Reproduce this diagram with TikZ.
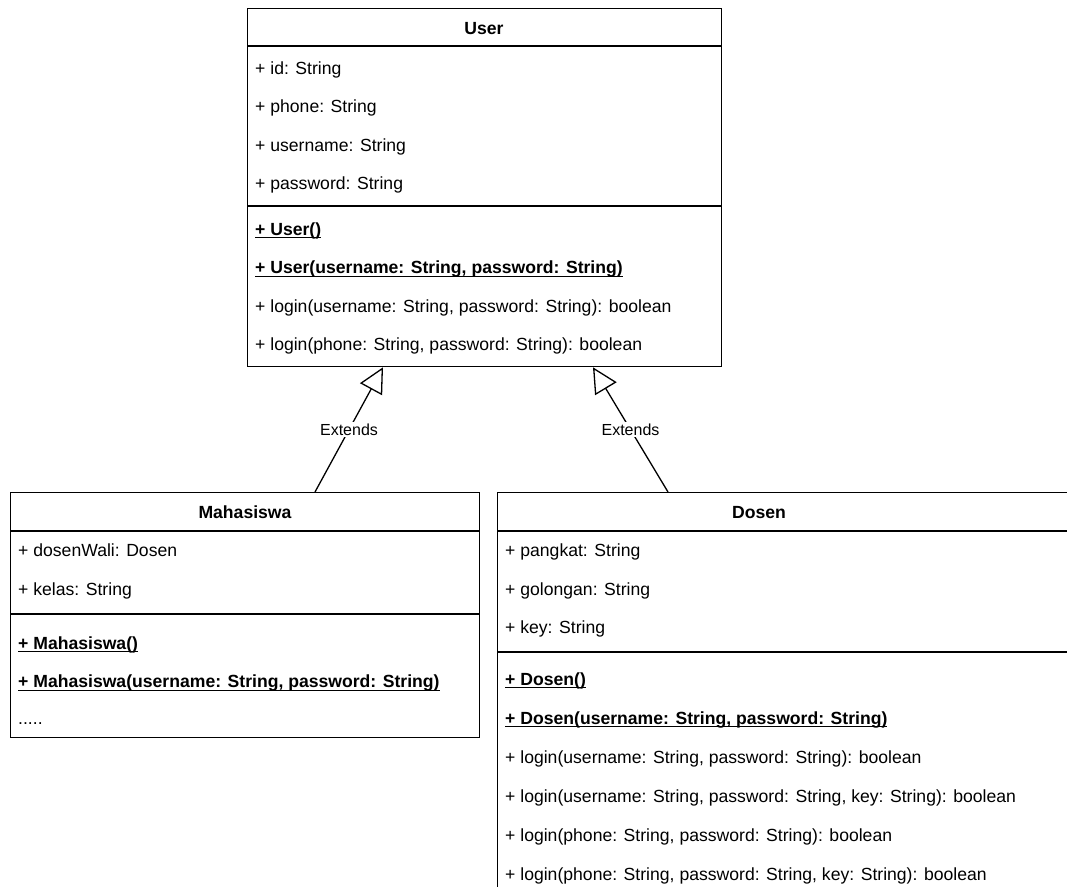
\documentclass[tikz,border=0pt]{standalone}
\usepackage{fontspec}
\setmainfont{Liberation Sans}
\usetikzlibrary{arrows.meta}
\newcommand\myul[1]{\setbox0=\hbox{#1}\rlap{\vrule height -2.2pt depth 3.4pt width \wd0}\box0}
\tikzset{
  box/.style={draw=black, line width=1.3pt, fill=white, inner sep=0pt, anchor=north west},
  sepline/.style={draw=black, line width=1.3pt},
  member/.style={anchor=base west, inner sep=0pt, font=\fontsize{17.6}{20}\selectfont, text=black},
  ctor/.style={member, font=\fontsize{17.6}{20}\selectfont\bfseries},
  title/.style={anchor=base, inner sep=0pt, font=\fontsize{17.6}{20}\selectfont\bfseries},
  ext/.style={draw=black, line width=1.3pt, -{Triangle[open, length=25pt, width=25pt]}},
  extlabel/.style={fill=white, inner sep=1.5pt, font=\fontsize{16}{18}\selectfont}
}
\begin{document}
\begin{tikzpicture}[x=1pt,y=-1pt]
\useasboundingbox (0,0) rectangle (1067,886);
\clip (0,0) rectangle (1067,886);
\fill[white] (0,0) rectangle (1067,886);

% ---------- User ----------
\node[box, minimum width=474pt, minimum height=358pt] (user) at (247,8) {};
\draw[sepline] (247,46) -- (721,46);
\draw[sepline] (247,206) -- (721,206);
\node[title] (userT) at (484,34) {User};
\node[member] (u1) at (255,74) {+ id: String};
\node[member] (u2) at (255,112.5) {+ phone: String};
\node[member] (u3) at (255,151) {+ username: String};
\node[member] (u4) at (255,189.5) {+ password: String};
\node[ctor] (u5) at (255,235) {\myul{+ User()}};
\node[ctor] (u6) at (255,273.5) {\myul{+ User(username: String, password: String)}};
\node[member] (u7) at (255,312) {+ login(username: String, password: String): boolean};
\node[member] (u8) at (255,350.5) {+ login(phone: String, password: String): boolean};

% ---------- Mahasiswa ----------
\node[box, minimum width=469pt, minimum height=245pt] (maha) at (10,492) {};
\draw[sepline] (10,531) -- (479,531);
\draw[sepline] (10,614) -- (479,614);
\node[title] (mahaT) at (245,518) {Mahasiswa};
\node[member] (m1) at (18,556.5) {+ dosenWali: Dosen};
\node[member] (m2) at (18,595) {+ kelas: String};
\node[ctor] (m3) at (18,649) {\myul{+ Mahasiswa()}};
\node[ctor] (m4) at (18,687.5) {\myul{+ Mahasiswa(username: String, password: String)}};
\node[member] (m5) at (18,724.5) {.....};

% ---------- Dosen ----------
\node[box, minimum width=620pt, minimum height=440pt] (dosen) at (497,492) {};
\draw[sepline] (497,531) -- (1080,531);
\draw[sepline] (497,652) -- (1080,652);
\node[title] (dosenT) at (759,518) {Dosen};
\node[member] (d1) at (505,556.5) {+ pangkat: String};
\node[member] (d2) at (505,595) {+ golongan: String};
\node[member] (d3) at (505,633.5) {+ key: String};
\node[ctor] (d4) at (505,685) {\myul{+ Dosen()}};
\node[ctor] (d5) at (505,724) {\myul{+ Dosen(username: String, password: String)}};
\node[member] (d6) at (505,763) {+ login(username: String, password: String): boolean};
\node[member] (d7) at (505,802) {+ login(username: String, password: String, key: String): boolean};
\node[member] (d8) at (505,841) {+ login(phone: String, password: String): boolean};
\node[member] (d9) at (505,880) {+ login(phone: String, password: String, key: String): boolean};

% ---------- Generalisations ----------
\coordinate (mTop) at ([xshift=305pt]maha.north west);
\coordinate (uL) at ([xshift=136pt]user.south west);
\coordinate (dTop) at ([xshift=171pt]dosen.north west);
\coordinate (uR) at ([xshift=346pt]user.south west);
\draw[ext] (mTop) -- node[extlabel, pos=0.5] (extL) {Extends} (uL);
\draw[ext] (dTop) -- node[extlabel, pos=0.5] (extR) {Extends} (uR);
\end{tikzpicture}
\end{document}
